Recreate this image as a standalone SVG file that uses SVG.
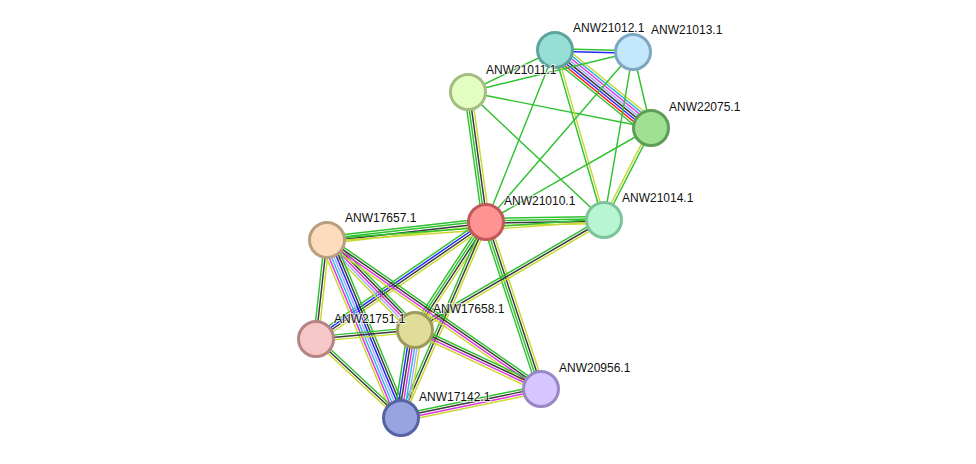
<svg xmlns="http://www.w3.org/2000/svg" width="976" height="464" viewBox="0 0 976 464">
<style>
.e path{fill:none;stroke-width:1.45}
.g{stroke:#2fc22f}.y{stroke:#c8d830}.k{stroke:#3a3a3a}.b{stroke:#2525ff}
.m{stroke:#e030e0}.c{stroke:#30b8e0}.l{stroke:#a4aaff}.r{stroke:#ff2525}
.n circle{stroke-width:3}
.n text{font-family:"Liberation Sans",Arial,sans-serif;font-size:12px;fill:#111;stroke:#fff;stroke-width:2;stroke-opacity:0.7;paint-order:stroke}
</style>
<rect width="976" height="464" fill="#fff"/>
<g id="connectors" class="e">
<g transform="translate(555,50) rotate(1.47)"><path class="g" d="M0 -1.2H78"/><path class="b" d="M0 1.2H78"/></g>
<g transform="translate(555,50) rotate(39.09)"><path class="g" d="M0 8.4H123.7"/><path class="r" d="M0 6H123.7"/><path class="b" d="M0 3.6H123.7"/><path class="k" d="M0 1.2H123.7"/><path class="l" d="M0 -1.2H123.7"/><path class="m" d="M0 -3.6H123.7"/><path class="c" d="M0 -6H123.7"/><path class="y" d="M0 -8.4H123.7"/></g>
<g transform="translate(555,50) rotate(154.23)"><path class="g" d="M0 0H96.6"/></g>
<g transform="translate(633,52) rotate(166.37)"><path class="g" d="M0 0H169.8"/></g>
<g transform="translate(468,92) rotate(11.13)"><path class="g" d="M0 0H186.5"/></g>
<g transform="translate(555,50) rotate(111.86)"><path class="g" d="M0 0H185.3"/></g>
<g transform="translate(555,50) rotate(73.92)"><path class="g" d="M0 1.2H176.9"/><path class="y" d="M0 -1.2H176.9"/></g>
<g transform="translate(633,52) rotate(130.85)"><path class="g" d="M0 0H224.7"/></g>
<g transform="translate(633,52) rotate(99.79)"><path class="g" d="M0 0H170.5"/></g>
<g transform="translate(633,52) rotate(76.68)"><path class="g" d="M0 0H78.1"/></g>
<g transform="translate(651,128) rotate(117.06)"><path class="g" d="M0 -1.2H103.3"/><path class="y" d="M0 1.2H103.3"/></g>
<g transform="translate(651,128) rotate(150.33)"><path class="g" d="M0 0H189.9"/></g>
<g transform="translate(468,92) rotate(43.26)"><path class="g" d="M0 0H186.8"/></g>
<g transform="translate(468,92) rotate(82.12)"><path class="g" d="M0 3.6H131.2"/><path class="g" d="M0 1.2H131.2"/><path class="k" d="M0 -1.2H131.2"/><path class="y" d="M0 -3.6H131.2"/></g>
<g transform="translate(486,222) rotate(-0.97)"><path class="g" d="M0 -3.6H118"/><path class="g" d="M0 -1.2H118"/><path class="k" d="M0 1.2H118"/><path class="y" d="M0 3.6H118"/></g>
<g transform="translate(486,222) rotate(71.77)"><path class="g" d="M0 3.6H175.8"/><path class="g" d="M0 1.2H175.8"/><path class="k" d="M0 -1.2H175.8"/><path class="y" d="M0 -3.6H175.8"/></g>
<g transform="translate(486,222) rotate(173.54)"><path class="g" d="M0 3.6H160"/><path class="g" d="M0 1.2H160"/><path class="k" d="M0 -1.2H160"/><path class="y" d="M0 -3.6H160"/></g>
<g transform="translate(327,240) rotate(-4.13)"><path class="g" d="M0 -1.2H277.7"/><path class="y" d="M0 1.2H277.7"/></g>
<g transform="translate(604,220) rotate(149.8)"><path class="g" d="M0 2.4H218.7"/><path class="k" d="M0 0H218.7"/><path class="y" d="M0 -2.4H218.7"/></g>
<g transform="translate(486,222) rotate(123.33)"><path class="g" d="M0 3.6H129.2"/><path class="g" d="M0 1.2H129.2"/><path class="k" d="M0 -1.2H129.2"/><path class="y" d="M0 -3.6H129.2"/></g>
<g transform="translate(486,222) rotate(113.44)"><path class="g" d="M0 2.4H213.6"/><path class="k" d="M0 0H213.6"/><path class="y" d="M0 -2.4H213.6"/></g>
<g transform="translate(486,222) rotate(145.46)"><path class="g" d="M0 3.6H206.4"/><path class="b" d="M0 1.2H206.4"/><path class="k" d="M0 -1.2H206.4"/><path class="y" d="M0 -3.6H206.4"/></g>
<g transform="translate(327,240) rotate(45.64)"><path class="g" d="M0 -4.8H125.9"/><path class="k" d="M0 -2.4H125.9"/><path class="m" d="M0 0H125.9"/><path class="l" d="M0 2.4H125.9"/><path class="y" d="M0 4.8H125.9"/></g>
<g transform="translate(327,240) rotate(34.85)"><path class="g" d="M0 -3.6H260.8"/><path class="k" d="M0 -1.2H260.8"/><path class="m" d="M0 1.2H260.8"/><path class="y" d="M0 3.6H260.8"/></g>
<g transform="translate(327,240) rotate(67.43)"><path class="g" d="M0 -7.2H192.8"/><path class="k" d="M0 -4.8H192.8"/><path class="b" d="M0 -2.4H192.8"/><path class="l" d="M0 0H192.8"/><path class="c" d="M0 2.4H192.8"/><path class="m" d="M0 4.8H192.8"/><path class="y" d="M0 7.2H192.8"/></g>
<g transform="translate(327,240) rotate(96.34)"><path class="g" d="M0 2.4H99.6"/><path class="k" d="M0 0H99.6"/><path class="y" d="M0 -2.4H99.6"/></g>
<g transform="translate(316,339) rotate(-5.19)"><path class="g" d="M0 -2.4H99.4"/><path class="k" d="M0 0H99.4"/><path class="y" d="M0 2.4H99.4"/></g>
<g transform="translate(316,339) rotate(42.91)"><path class="g" d="M0 -2.4H116"/><path class="k" d="M0 0H116"/><path class="y" d="M0 2.4H116"/></g>
<g transform="translate(415,330) rotate(99.04)"><path class="g" d="M0 7.2H89.1"/><path class="b" d="M0 4.8H89.1"/><path class="k" d="M0 2.4H89.1"/><path class="m" d="M0 0H89.1"/><path class="c" d="M0 -2.4H89.1"/><path class="l" d="M0 -4.8H89.1"/><path class="y" d="M0 -7.2H89.1"/></g>
<g transform="translate(415,330) rotate(25.09)"><path class="g" d="M0 -3.6H139.1"/><path class="k" d="M0 -1.2H139.1"/><path class="m" d="M0 1.2H139.1"/><path class="y" d="M0 3.6H139.1"/></g>
<g transform="translate(401,418) rotate(-11.7)"><path class="g" d="M0 -3.6H143"/><path class="k" d="M0 -1.2H143"/><path class="m" d="M0 1.2H143"/><path class="y" d="M0 3.6H143"/></g>
</g>
<g id="ANW21012.1" class="n"><circle cx="555" cy="50" r="17.5" fill="#97dfd5" stroke="#5fa49b"/><text x="573" y="32">ANW21012.1</text></g>
<g id="ANW21013.1" class="n"><circle cx="633" cy="52" r="17.5" fill="#c3e7fb" stroke="#7ea8c2"/><text x="651" y="34">ANW21013.1</text></g>
<g id="ANW21011.1" class="n"><circle cx="468" cy="92" r="17.5" fill="#e3ffc2" stroke="#a4bd82"/><text x="486" y="74">ANW21011.1</text></g>
<g id="ANW22075.1" class="n"><circle cx="651" cy="128" r="17.5" fill="#9fe093" stroke="#5f9e56"/><text x="669" y="111">ANW22075.1</text></g>
<g id="ANW21010.1" class="n"><circle cx="486" cy="222" r="17.5" fill="#ff9292" stroke="#c05a5a"/><text x="504" y="205">ANW21010.1</text></g>
<g id="ANW21014.1" class="n"><circle cx="604" cy="220" r="17.5" fill="#b8f6d3" stroke="#7dc49b"/><text x="622" y="202">ANW21014.1</text></g>
<g id="ANW17657.1" class="n"><circle cx="327" cy="240" r="17.5" fill="#fddcbd" stroke="#b89f80"/><text x="345" y="222">ANW17657.1</text></g>
<g id="ANW17658.1" class="n"><circle cx="415" cy="330" r="17.5" fill="#e0dc99" stroke="#9e9a5c"/><text x="433" y="313">ANW17658.1</text></g>
<g id="ANW21751.1" class="n"><circle cx="316" cy="339" r="17.5" fill="#f6c7c7" stroke="#b58585"/><text x="334" y="323">ANW21751.1</text></g>
<g id="ANW20956.1" class="n"><circle cx="541" cy="389" r="17.5" fill="#d6c6ff" stroke="#9a88c5"/><text x="559" y="372">ANW20956.1</text></g>
<g id="ANW17142.1" class="n"><circle cx="401" cy="418" r="17.5" fill="#98a4e0" stroke="#5764a4"/><text x="419" y="401">ANW17142.1</text></g>
</svg>
